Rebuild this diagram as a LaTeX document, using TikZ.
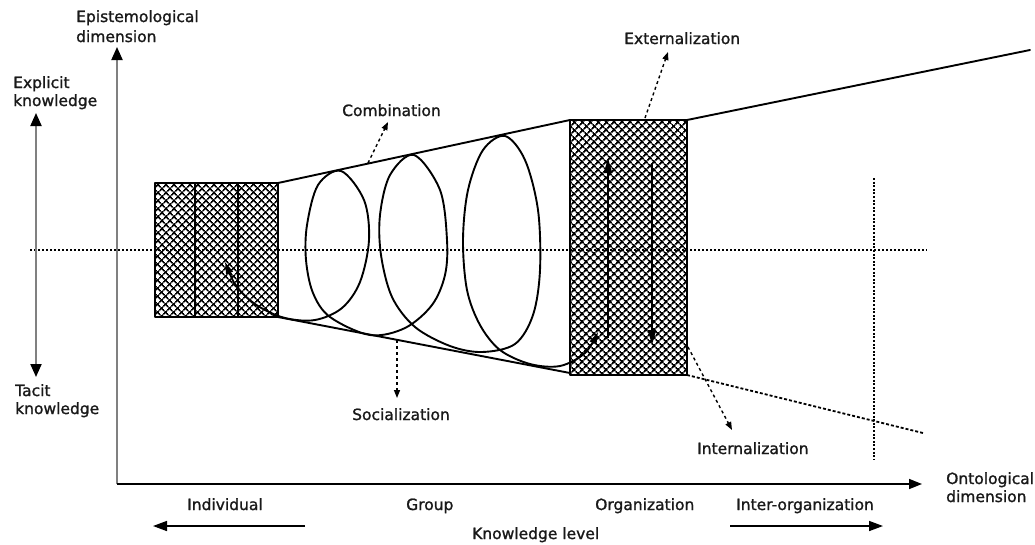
\documentclass[tikz,border=0pt]{standalone}
\usepackage{fontspec}
\setmainfont[FakeBold=1.2]{DejaVu Sans}
\usetikzlibrary{arrows.meta,patterns.meta}
\begin{document}
\begin{tikzpicture}[x=1pt,y=1pt,
  lbl/.style={anchor=base west, inner sep=0pt, font=\fontsize{15.5}{18}\selectfont, text=black!90},
  solidline/.style={line width=1.9pt, black, line cap=round, line join=round},
  axisgray/.style={line width=2pt, black!50},
  bigtip/.style={-{Triangle[length=13pt,width=11pt,color=black]}},
  dbltip/.style={{Triangle[length=13pt,width=11pt,color=black]}-{Triangle[length=13pt,width=11pt,color=black]}},
  lvltip/.style={line width=1.5pt, -{Triangle[length=14pt,width=10pt]}},
  orgtip/.style={line width=2.2pt, -{Triangle[length=15pt,width=8pt]}},
  dotarrow/.style={line width=1.4pt, dash pattern=on 3pt off 3pt, -{Triangle[length=8pt,width=6pt]}},
  midline/.style={line width=1.3pt, dash pattern=on 2pt off 2pt},
  vdots/.style={line width=2pt, dash pattern=on 2pt off 1.6pt},
  lowdots/.style={line width=1.8pt, dash pattern=on 3pt off 2pt},
  hatchA/.style={pattern={Lines[angle=45,distance=5.4pt,line width=1.7pt]}},
  hatchB/.style={pattern={Lines[angle=-45,distance=5.4pt,line width=1.7pt]}},
]
\useasboundingbox (0,0) rectangle (1035,-544);
\fill[white] (0,0) rectangle (1035,-544);

% ---------- coordinates ----------
\coordinate (O) at (117,-484);
\coordinate (ytop) at (117,-47);
\coordinate (xend) at (922,-484);
\coordinate (ktop) at (36,-113);
\coordinate (kbot) at (36,-377);
\coordinate (lbnw) at (155,-183);
\coordinate (lbse) at (278,-317);
\coordinate (lbne) at (278,-183);
\coordinate (obnw) at (570,-120);
\coordinate (obsw) at (570,-373);
\coordinate (obne) at (687,-120);
\coordinate (obse) at (687,-375);
\coordinate (upend) at (1030,-50);
\coordinate (lowend) at (923,-433);
\coordinate (hl) at (30,-250);
\coordinate (hr) at (927,-250);
\coordinate (vt) at (874,-178);
\coordinate (vb) at (874,-460);

% ---------- horizontal dotted middle line ----------
\draw[midline] (hl) -- (hr);

% ---------- hatched boxes ----------
\fill[hatchA] (lbnw) rectangle (lbse);
\fill[hatchB] (lbnw) rectangle (lbse);
\fill[hatchA] (obnw) rectangle (obse);
\fill[hatchB] (obnw) rectangle (obse);
\draw[solidline] (lbnw) rectangle (lbse);
\draw[solidline] (195,-183) coordinate (c1t) -- (195,-317) coordinate (c1b);
\draw[solidline] (238,-183) coordinate (c2t) -- (238,-317) coordinate (c2b);
\draw[solidline] (obnw) rectangle (obse);

% ---------- cone ----------
\draw[solidline] (lbne) -- (obnw);
\draw[solidline] (lbse) -- (obsw);
\draw[solidline] (obne) -- (upend);
\draw[lowdots] (obse) -- (lowend);
\draw[vdots] (vt) -- (vb);

% ---------- spiral ----------
\draw[line width=1.9pt, {Triangle[length=12pt,width=7pt]}-{Triangle[length=12pt,width=7pt]}]
  plot[smooth, tension=0.55] coordinates {
   (225,-262) (238,-288) (258,-306) (285,-318) (315,-320) (342,-308) (360,-282)
   (369,-240) (364,-200) (341,-171) (318,-185) (307,-225) (306,-260) (313,-293)
   (330,-317) (370,-335) (405,-328) (432,-305) (445,-275) (447,-240) (440,-190)
   (414,-155) (390,-175) (380,-215) (381,-255) (392,-297) (415,-327) (450,-346)
   (482,-352) (515,-344) (533,-315) (540,-270) (538,-210) (525,-160) (505,-136)
   (483,-150) (468,-190) (463,-240) (467,-290) (480,-325) (500,-350) (530,-364)
   (560,-366) (585,-353) (598,-332)};

% ---------- organization arrows ----------
\coordinate (ua1) at (608,-338); \coordinate (ua2) at (608,-158);
\coordinate (da1) at (652,-163); \coordinate (da2) at (652,-345);
\draw[orgtip] (ua1) -- (ua2);
\draw[orgtip] (da1) -- (da2);

% ---------- axes ----------
\draw[axisgray, bigtip] (O) -- (ytop);
\draw[line width=1.6pt, -{Triangle[length=13pt,width=10pt]}] (O) -- (xend);
\draw[axisgray, dbltip] (ktop) -- (kbot);

% ---------- labels ----------
\node[lbl] (epi1) at (76,-22) {Epistemological};
\node[lbl] (epi2) at (76,-42) {dimension};
\node[lbl] (exp1) at (13,-88) {Explicit};
\node[lbl] (exp2) at (13,-106) {knowledge};
\node[lbl] (tac1) at (15,-396) {Tacit};
\node[lbl] (tac2) at (15,-414) {knowledge};
\node[lbl] (comb) at (342,-116) {Combination};
\node[lbl] (soc) at (352,-420) {Socialization};
\node[lbl] (ext) at (624,-44) {Externalization};
\node[lbl] (int) at (697,-454) {Internalization};
\node[lbl] (ont1) at (946,-484) {Ontological};
\node[lbl] (ont2) at (946,-502) {dimension};
\node[lbl] (ind) at (187,-510) {Individual};
\node[lbl] (grp) at (406,-510) {Group};
\node[lbl] (org) at (595,-510) {Organization};
\node[lbl] (inter) at (736,-510) {Inter-organization};
\node[lbl] (klev) at (472,-539) {Knowledge level};

% ---------- label arrows ----------
\coordinate (combs) at (368,-163); \coordinate (combt) at (388,-122);
\coordinate (socs) at (397,-340);  \coordinate (soct) at (397,-398);
\coordinate (exts) at (645,-118);  \coordinate (extt) at (668,-52);
\coordinate (ints) at (688,-347);  \coordinate (intt) at (732,-430);
\draw[dotarrow] (combs) -- (combt);
\draw[dotarrow] (socs) -- (soct);
\draw[dotarrow] (exts) -- (extt);
\draw[dotarrow] (ints) -- (intt);

% ---------- knowledge level arrows ----------
\coordinate (la1) at (305,-526); \coordinate (la2) at (153,-526);
\coordinate (ra1) at (730,-526); \coordinate (ra2) at (883,-526);
\draw[lvltip] (la1) -- (la2);
\draw[lvltip] (ra1) -- (ra2);
\end{tikzpicture}
\end{document}
